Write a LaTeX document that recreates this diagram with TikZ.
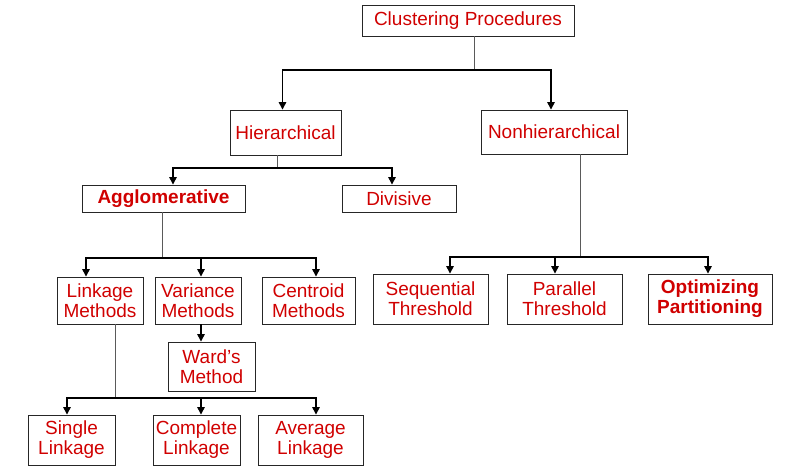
\documentclass[tikz,border=0pt]{standalone}
\usepackage{fontspec}
\setmainfont{Liberation Sans}
\usetikzlibrary{positioning,arrows.meta}
\definecolor{boxred}{HTML}{D00000}
\definecolor{stemgray}{HTML}{5A5A5A}

\tikzset{
  box/.style={draw=black!85,line width=0.9pt,text=boxred,align=center,
    inner sep=0pt,font=\fontsize{19}{20}\selectfont},
  boldbox/.style={box,font=\fontsize{19}{20}\selectfont\bfseries},
  stem/.style={draw=stemgray,line width=1pt},
  arr/.style={draw=black,line width=1.3pt,-{Triangle[length=7.5pt,width=7.5pt]}},
}

\begin{document}
\begin{tikzpicture}[x=1pt,y=-1pt]
\useasboundingbox (0,0) rectangle (787,467);
% boxes
\node[box,minimum width=212,minimum height=31](root) at (468,20.5){Clustering Procedures};
\node[box,minimum width=111,minimum height=45](hier) at (285.5,132.5){Hierarchical};
\node[box,minimum width=146,minimum height=44](nonh) at (554,132){Nonhierarchical};
\node[boldbox,minimum width=163,minimum height=27](agg) at (163.5,198.5){Agglomerative};
\node[box,minimum width=114,minimum height=27](div) at (399,198.5){Divisive};
\node[box,minimum width=86,minimum height=47](link) at (100,300.5){Linkage\\Methods};
\node[box,minimum width=86,minimum height=47](var) at (198,300.5){Variance\\Methods};
\node[box,minimum width=93,minimum height=47](cent) at (308.5,300.5){Centroid\\Methods};
\node[box,minimum width=115,minimum height=50](seq) at (430.5,299){Sequential\\Threshold};
\node[box,minimum width=115,minimum height=50](par) at (564.5,299){Parallel\\Threshold};
\node[boldbox,minimum width=124,minimum height=50](opt) at (710,299){Optimizing\\Partitioning};
\node[box,minimum width=87,minimum height=49](ward) at (211.5,366.5){Ward’s\\Method};
\node[box,minimum width=87,minimum height=50](single) at (71.5,440){Single\\Linkage};
\node[box,minimum width=87,minimum height=50](comp) at (196.5,440){Complete\\Linkage};
\node[box,minimum width=105,minimum height=50](avg) at (310.5,440){Average\\Linkage};
% junctions
\coordinate (jroot) at (474,70);
\coordinate (jhier) at (277,168);
\coordinate (jagg) at (162,258);
\coordinate (jnonh) at (580,257);
\coordinate (jlink) at (115,398);
% connectors
\draw[stem](root.south -| jroot)--(jroot);
\draw[arr](jroot)-|([xshift=-3pt]hier.north);
\draw[arr](jroot)-|([xshift=-3pt]nonh.north);
\draw[stem](hier.south -| jhier)--(jhier);
\draw[arr](jhier)-|([xshift=9.5pt]agg.north);
\draw[arr](jhier)-|([xshift=-7pt]div.north);
\draw[stem](agg.south -| jagg)--(jagg);
\draw[arr](jagg)-|([xshift=-14pt]link.north);
\draw[arr](jagg)-|([xshift=3pt]var.north);
\draw[arr](jagg)-|([xshift=7.5pt]cent.north);
\draw[stem](nonh.south -| jnonh)--(jnonh);
\draw[arr](jnonh)-|([xshift=19.5pt]seq.north);
\draw[arr](jnonh)-|([xshift=-9.5pt]par.north);
\draw[arr](jnonh)-|([xshift=-2pt]opt.north);
\draw[arr]([xshift=3pt]var.south)--([xshift=3pt]var.south |- ward.north);
\draw[stem](link.south -| jlink)--(jlink);
\draw[arr](jlink)-|([xshift=-4.5pt]single.north);
\draw[arr](jlink)-|([xshift=4.5pt]comp.north);
\draw[arr](jlink)-|([xshift=5.5pt]avg.north);
\end{tikzpicture}
\end{document}
